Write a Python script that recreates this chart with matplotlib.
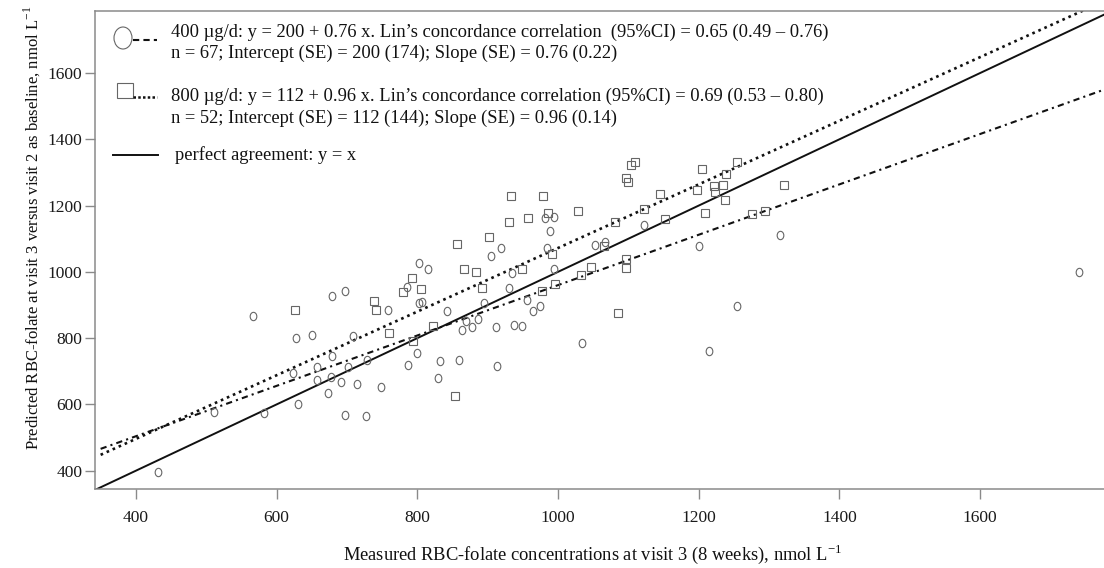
import matplotlib
matplotlib.use("Agg")
import matplotlib.pyplot as plt
from matplotlib.path import Path
from matplotlib.lines import Line2D
from matplotlib.patches import Ellipse, Rectangle
import numpy as np

plt.rcParams['font.family'] = ['Liberation Serif', 'DejaVu Serif']
plt.rcParams['mathtext.fontset'] = 'custom'
plt.rcParams['mathtext.rm'] = 'Liberation Serif'

# ---------------- data ----------------
x400 = [431, 511, 567, 582, 623, 628, 631, 650, 657, 657, 673, 678, 679, 679, 692, 697, 697,
        702, 708, 714, 727, 728, 749, 758, 786, 787, 800, 803, 803, 807, 815, 830, 833, 842,
        859, 863, 869, 878, 887, 895, 905, 912, 914, 919, 930, 935, 938, 949, 956, 965, 974,
        981, 984, 989, 994, 995, 1034, 1053, 1067, 1122, 1201, 1215, 1255, 1316, 1740]
y400 = [397, 578, 868, 574, 696, 799, 601, 811, 714, 674, 636, 684, 927, 747, 667, 943, 568,
        713, 808, 663, 564, 735, 654, 885, 953, 719, 754, 1028, 907, 909, 1010, 680, 732, 883,
        734, 826, 852, 835, 859, 905, 1048, 833, 716, 1071, 951, 998, 840, 838, 915, 883, 898,
        1162, 1073, 1124, 1167, 1010, 786, 1081, 1091, 1141, 1078, 760, 898, 1110, 1000]

x800 = [626, 739, 742, 760, 780, 793, 805, 794, 822, 853, 856, 866, 883, 892, 902, 933, 931,
        958, 978, 986, 949, 992, 977, 996, 1029, 1047, 1032, 1081, 1066, 1097, 1097, 1085,
        1096, 1100, 1104, 1109, 1122, 1145, 1152, 1197, 1204, 1209, 1222, 1223, 1234, 1239,
        1237, 1255, 1276, 1294, 1321]
y800 = [884, 912, 886, 815, 938, 982, 948, 792, 838, 626, 1083, 1008, 999, 951, 1104, 1229,
        1150, 1162, 1229, 1179, 1009, 1053, 942, 964, 1184, 1016, 990, 1149, 1078, 1038, 1011,
        876, 1282, 1270, 1322, 1333, 1189, 1234, 1159, 1246, 1309, 1179, 1259, 1241, 1262,
        1294, 1216, 1330, 1175, 1185, 1262]

fit_x = [350, 1800]
intercept400, slope400 = 200, 0.76
intercept800, slope800 = 112, 0.96
ident_x = [300, 1900]

xticks = [400, 600, 800, 1000, 1200, 1400, 1600]
yticks = [400, 600, 800, 1000, 1200, 1400, 1600]

legend_lines = [
    "400 µg/d: y = 200 + 0.76 x. Lin’s concordance correlation  (95%CI) = 0.65 (0.49 – 0.76)",
    "n = 67; Intercept (SE) = 200 (174); Slope (SE) = 0.76 (0.22)",
    "800 µg/d: y = 112 + 0.96 x. Lin’s concordance correlation (95%CI) = 0.69 (0.53 – 0.80)",
    "n = 52; Intercept (SE) = 112 (144); Slope (SE) = 0.96 (0.14)",
    "perfect agreement: y = x",
]
xlabel = "Measured RBC-folate concentrations at visit 3 (8 weeks), nmol L$^{\\mathregular{-1}}$"
ylabel = "Predicted RBC-folate at visit 3 versus visit 2 as baseline, nmol L$^{\\mathregular{-1}}$"

# ---------------- figure ----------------
W, H = 1104, 568
fig = plt.figure(figsize=(W / 100, H / 100), dpi=100)
L, R, T, B = 95, 1104, 10.7, 489.3
ax = fig.add_axes([L / W, (H - B) / H, (R - L) / W, (B - T) / H])
ax.set_xlim(342, 1776)
ax.set_ylim(344, 1788)

gray = '#8a8a8a'
for s in ['left', 'top', 'bottom']:
    ax.spines[s].set_color(gray)
    ax.spines[s].set_linewidth(1.1)
ax.spines['right'].set_visible(False)

ax.set_xticks(xticks)
ax.set_yticks(yticks)
ax.tick_params(direction='out', length=7, width=1, color=gray, labelsize=12.5,
               labelcolor='#1a1a1a')
ax.tick_params(axis='x', pad=8)
ax.tick_params(axis='y', pad=2)

# markers
circ = Path.unit_circle()
ell = Path(circ.vertices * np.array([0.8, 1.0]), circ.codes)
mk_col = '#666666'

ax.plot(x400, y400, linestyle='none', marker=ell, ms=6.0, mfc='none', mec=mk_col, mew=0.8,
        zorder=3)
ax.plot(x800, y800, linestyle='none', marker='s', ms=5.6, mfc='none', mec=mk_col, mew=0.8,
        zorder=3)

fx = np.array(fit_x, dtype=float)
ax.plot(fx, intercept400 + slope400 * fx, color='#111111', lw=1.5,
        linestyle=(0, (3, 2, 1, 2)), zorder=2)
ax.plot(fx, intercept800 + slope800 * fx, color='#111111', lw=1.9,
        linestyle=(0, (1.0, 1.5)), zorder=2)
ax.plot(ident_x, ident_x, color='#111111', lw=1.4, zorder=2)

# ---------------- legend (manual) ----------------
def fxp(x):
    return x / W

def fyp(y):
    return 1 - y / H

fig.add_artist(Ellipse((fxp(123), fyp(38)), 18 / W, 22 / H, fill=False, edgecolor=mk_col,
                       lw=0.8, transform=fig.transFigure))
fig.add_artist(Line2D([fxp(133), fxp(157)], [fyp(40), fyp(40)], color='#111111', lw=1.5,
                      linestyle=(0, (3, 2)), transform=fig.transFigure))
fig.add_artist(Rectangle((fxp(116.5), fyp(98)), 16 / W, 15 / H, fill=False, edgecolor=mk_col,
                         lw=0.8, transform=fig.transFigure))
fig.add_artist(Line2D([fxp(133), fxp(157)], [fyp(97), fyp(97)], color='#111111', lw=1.8,
                      linestyle=(0, (1.0, 0.9)), transform=fig.transFigure))
fig.add_artist(Line2D([fxp(113), fxp(158)], [fyp(155), fyp(155)], color='#111111', lw=1.4,
                      transform=fig.transFigure))

legend_pos = [(171, 32), (171, 53), (171, 96), (171, 118), (175, 155)]
for txt, (px, py) in zip(legend_lines, legend_pos):
    fig.text(fxp(px), fyp(py), txt, ha='left', va='center', fontsize=13.3, color='#111111')

fig.text(fxp(593), fyp(554), xlabel, ha='center', va='center', fontsize=13.3, color='#111111')
fig.text(fxp(32), fyp(228), ylabel, ha='center', va='center', rotation=90, fontsize=12,
         color='#111111')

fig.savefig('out.png', dpi=100)
